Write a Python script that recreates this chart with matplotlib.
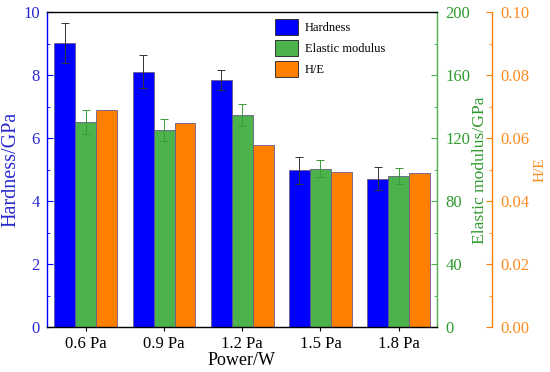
import matplotlib
matplotlib.use("Agg")
import matplotlib.pyplot as plt
import numpy as np

categories = ["0.6 Pa", "0.9 Pa", "1.2 Pa", "1.5 Pa", "1.8 Pa"]
hardness = [9.02, 8.11, 7.84, 4.98, 4.72]
hardness_err = [0.63, 0.52, 0.32, 0.42, 0.37]
modulus = [130.4, 125.0, 135.0, 100.8, 95.9]
modulus_err = [7.4, 7.0, 7.0, 5.2, 5.0]
h_over_e = [0.0689, 0.0647, 0.0580, 0.0494, 0.0491]

plt.rcParams['font.family'] = ['Liberation Serif', 'DejaVu Serif']

c_blue = '#0000FF'
c_green = '#4CB24C'
c_orange = '#FF7F00'
t_blue = '#2828D0'
t_green = '#2E9A2E'
t_orange = '#FF8A1E'

fig = plt.figure(figsize=(5.5, 3.72), dpi=100)
L, R, T, B = 46.7, 437.0, 12.3, 327.3
ax = fig.add_axes([L/550, 1-B/372, (R-L)/550, (B-T)/372])
ax2 = ax.twinx()
ax3 = ax.twinx()
ax3.spines['right'].set_position(('axes', 1.14))

x = np.arange(len(categories))
w = 0.268
edge = dict(edgecolor='#6a5a8a', linewidth=0.6)
b1 = ax.bar(x - w, hardness, w, color=c_blue, yerr=hardness_err, capsize=3,
            error_kw=dict(ecolor='#333333', elinewidth=0.7, capthick=0.7), **edge, zorder=2)
b2 = ax2.bar(x, modulus, w, color=c_green, yerr=modulus_err, capsize=3,
             error_kw=dict(ecolor='#3a9a3a', elinewidth=0.7, capthick=0.7), **edge, zorder=2)
b3 = ax3.bar(x + w, h_over_e, w, color=c_orange, **edge, zorder=2)

ax.set_xlim(-0.5, 4.49)
ax.set_ylim(0, 10)
ax2.set_ylim(0, 200)
ax3.set_ylim(0, 0.10)

ax.set_xticks(x)
ax.set_xticklabels(categories, fontsize=12)
ax.tick_params(axis='x', direction='out', length=3, pad=3)
ax.set_xlabel('Power/W', fontsize=13, labelpad=0)

ax.set_yticks(np.arange(0, 11, 2))
ax.set_yticks(np.arange(1, 10, 2), minor=True)
ax.tick_params(axis='y', which='both', direction='in', colors=c_blue, labelcolor=t_blue, labelsize=12, pad=5)
ax.tick_params(axis='y', which='major', length=4)
ax.tick_params(axis='y', which='minor', length=2)
ax.set_ylabel('Hardness/GPa', fontsize=14.5, color=t_blue, labelpad=2)

ax2.set_yticks(np.arange(0, 201, 40))
ax2.set_yticks(np.arange(20, 200, 40), minor=True)
ax2.tick_params(axis='y', which='both', direction='in', colors=c_green, labelcolor=t_green, labelsize=12, pad=6)
ax2.tick_params(axis='y', which='major', length=4)
ax2.tick_params(axis='y', which='minor', length=2)
ax2.set_ylabel('Elastic modulus/GPa', fontsize=12.6, color=t_green, labelpad=1)

ax3.set_yticks(np.arange(0, 0.101, 0.02))
ax3.set_yticks(np.arange(0.01, 0.1, 0.02), minor=True)
ax3.set_yticklabels(['0.00', '0.02', '0.04', '0.06', '0.08', '0.10'])
ax3.tick_params(axis='y', which='both', direction='in', colors=c_orange, labelcolor=t_orange, labelsize=12, pad=6)
ax3.tick_params(axis='y', which='major', length=4)
ax3.tick_params(axis='y', which='minor', length=2)
ax3.set_ylabel('H/E', fontsize=11, color=t_orange, labelpad=3)

for a in (ax, ax2, ax3):
    for s in a.spines.values():
        s.set_linewidth(1.0)
ax.spines['left'].set_color(c_blue)
ax2.spines['right'].set_color(c_green)
ax3.spines['right'].set_color(c_orange)
ax2.spines['left'].set_visible(False)
ax3.spines['left'].set_visible(False)
ax3.spines['top'].set_visible(False)
ax3.spines['bottom'].set_visible(False)
ax2.spines['top'].set_visible(False)
ax2.spines['bottom'].set_visible(False)
ax.spines['right'].set_visible(False)

leg = ax.legend([b1, b2, b3], ['Hardness', 'Elastic modulus', 'H/E'],
                loc='upper left', bbox_to_anchor=(0.585, 0.978), frameon=False,
                fontsize=9, handlelength=1.8, handleheight=1.6, labelspacing=0.4,
                handletextpad=0.6, borderpad=0, borderaxespad=0)
for h in leg.legend_handles:
    h.set_edgecolor('#333333')
    h.set_linewidth(0.7)
ax.set_zorder(ax3.get_zorder() + 1)
ax.patch.set_visible(False)
leg.set_zorder(10)

fig.savefig('out.png', dpi=100)
